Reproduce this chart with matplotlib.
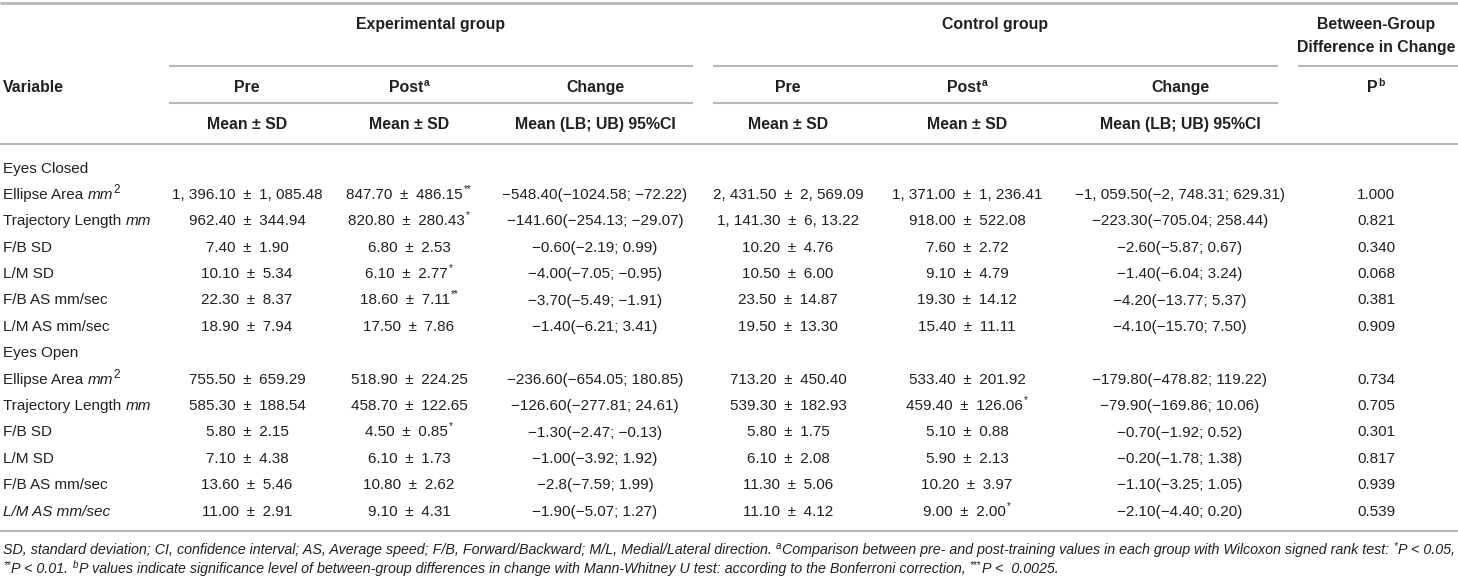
import matplotlib
matplotlib.use("Agg")
import matplotlib.pyplot as plt

# ---------------- data ----------------
section_titles = ["Eyes Closed", "Eyes Open"]
variable_labels = ["Ellipse Area", "Trajectory Length", "F/B SD", "L/M SD",
                   "F/B AS mm/sec", "L/M AS mm/sec"]
variable_units = ["mm", "mm", "", "", "", ""]
variable_unit_sup = ["2", "", "", "", "", ""]

exp_pre = ["1, 396.10 ± 1, 085.48", "962.40 ± 344.94", "7.40 ± 1.90", "10.10 ± 5.34",
           "22.30 ± 8.37", "18.90 ± 7.94",
           "755.50 ± 659.29", "585.30 ± 188.54", "5.80 ± 2.15", "7.10 ± 4.38",
           "13.60 ± 5.46", "11.00 ± 2.91"]
exp_post = ["847.70 ± 486.15", "820.80 ± 280.43", "6.80 ± 2.53", "6.10 ± 2.77",
            "18.60 ± 7.11", "17.50 ± 7.86",
            "518.90 ± 224.25", "458.70 ± 122.65", "4.50 ± 0.85", "6.10 ± 1.73",
            "10.80 ± 2.62", "9.10 ± 4.31"]
exp_post_sig = ["**", "*", "", "*", "**", "", "", "", "*", "", "", ""]
exp_change = ["−548.40(−1024.58; −72.22)", "−141.60(−254.13; −29.07)", "−0.60(−2.19; 0.99)",
              "−4.00(−7.05; −0.95)", "−3.70(−5.49; −1.91)", "−1.40(−6.21; 3.41)",
              "−236.60(−654.05; 180.85)", "−126.60(−277.81; 24.61)", "−1.30(−2.47; −0.13)",
              "−1.00(−3.92; 1.92)", "−2.8(−7.59; 1.99)", "−1.90(−5.07; 1.27)"]
ctl_pre = ["2, 431.50 ± 2, 569.09", "1, 141.30 ± 6, 13.22", "10.20 ± 4.76", "10.50 ± 6.00",
           "23.50 ± 14.87", "19.50 ± 13.30",
           "713.20 ± 450.40", "539.30 ± 182.93", "5.80 ± 1.75", "6.10 ± 2.08",
           "11.30 ± 5.06", "11.10 ± 4.12"]
ctl_post = ["1, 371.00 ± 1, 236.41", "918.00 ± 522.08", "7.60 ± 2.72", "9.10 ± 4.79",
            "19.30 ± 14.12", "15.40 ± 11.11",
            "533.40 ± 201.92", "459.40 ± 126.06", "5.10 ± 0.88", "5.90 ± 2.13",
            "10.20 ± 3.97", "9.00 ± 2.00"]
ctl_post_sig = ["", "", "", "", "", "", "", "*", "", "", "", "*"]
ctl_change = ["−1, 059.50(−2, 748.31; 629.31)", "−223.30(−705.04; 258.44)", "−2.60(−5.87; 0.67)",
              "−1.40(−6.04; 3.24)", "−4.20(−13.77; 5.37)", "−4.10(−15.70; 7.50)",
              "−179.80(−478.82; 119.22)", "−79.90(−169.86; 10.06)", "−0.70(−1.92; 0.52)",
              "−0.20(−1.78; 1.38)", "−1.10(−3.25; 1.05)", "−2.10(−4.40; 0.20)"]
p_values = ["1.000", "0.821", "0.340", "0.068", "0.381", "0.909",
            "0.734", "0.705", "0.301", "0.817", "0.939", "0.539"]

group_headers = ["Experimental group", "Control group"]
sub_headers = ["Pre", "Post", "Change"]
stat_headers = ["Mean ± SD", "Mean ± SD", "Mean (LB; UB) 95%CI"]

# ---------------- layout ----------------
W, H = 1458, 579
fig = plt.figure(figsize=(W / 100, H / 100), dpi=100)
ax = fig.add_axes([0, 0, 1, 1])
ax.set_xlim(0, W)
ax.set_ylim(H, 0)
ax.axis("off")
renderer = fig.canvas.get_renderer()

FONT = ["Liberation Sans", "DejaVu Sans"]
COL = "#231f20"
RULE = "#b8b8b8"
FS = 11.0
FS_HEAD = 11.4
FS_FOOT = 10.25
PX = 100 / 72.0


def fmt_cell(s):
    # math-style typesetting: wider spacing around ±
    return s.replace(" ± ", "\u2002±\u2002")


def measure(s, size, style="normal", weight="normal"):
    t = ax.text(0, 0, s, fontfamily=FONT, fontsize=size, fontstyle=style, fontweight=weight)
    w = t.get_window_extent(renderer).width
    t.remove()
    return w


def draw_runs(x, ycen, runs, ha="left", size=FS):
    """runs: list of (text, dict) ; dict keys size, style, weight, rise, gap"""
    base = ycen + 0.36 * size * PX
    widths = []
    for s, o in runs:
        widths.append(o.get("gap", 0) + measure(s, o.get("size", size), o.get("style", "normal"),
                                                o.get("weight", "normal")))
    total = sum(widths)
    cx = x - total / 2 if ha == "center" else x
    for (s, o), w in zip(runs, widths):
        cx += o.get("gap", 0)
        ax.text(cx, base - o.get("rise", 0), s, fontfamily=FONT, fontsize=o.get("size", size),
                fontstyle=o.get("style", "normal"), fontweight=o.get("weight", "normal"),
                color=COL, ha="left", va="baseline")
        cx += w - o.get("gap", 0)


def rule(y, x0, x1, lw=1.5):
    ax.plot([x0, x1], [y, y], color=RULE, lw=lw, solid_capstyle="butt")


# rules
rule(3, 0, W, 2.0)
for x0, x1 in [(169, 693), (713, 1278), (1298, W)]:
    rule(66, x0, x1)
for x0, x1 in [(169, 693), (713, 1278)]:
    rule(103, x0, x1)
rule(144, 0, W)
rule(531, 0, W)

B = {"weight": "bold", "size": FS_HEAD}
BS = {"weight": "bold", "size": 7.5, "rise": 5.5, "gap": 0.5}
col_x = [247, 409, 595, 788, 967, 1180]
group_x = [431, 995]
p_x = 1376

# headers
for gx, g in zip(group_x, group_headers):
    draw_runs(gx, 23, [(g, B)], ha="center", size=FS_HEAD)
draw_runs(p_x, 23, [("Between-Group", B)], ha="center", size=FS_HEAD)
draw_runs(p_x, 46, [("Difference in Change", B)], ha="center", size=FS_HEAD)
draw_runs(3, 86, [("Variable", B)], size=FS_HEAD)
for gi in range(2):
    for ci in range(3):
        x = col_x[gi * 3 + ci]
        if sub_headers[ci] == "Post":
            draw_runs(x, 86, [("Post", B), ("a", BS)], ha="center", size=FS_HEAD)
        else:
            draw_runs(x, 86, [(sub_headers[ci], B)], ha="center", size=FS_HEAD)
        draw_runs(x, 123, [(stat_headers[ci], B)], ha="center", size=FS_HEAD)
draw_runs(p_x, 86, [("P", B), ("b", BS)], ha="center", size=FS_HEAD)

# body
y0, dy = 167, 26.4
sp = 0.278 * FS * PX
n = len(variable_labels)
SIG = {"size": 7, "rise": 7, "gap": 1}
for si, title in enumerate(section_titles):
    ry = y0 + dy * si * (n + 1)
    draw_runs(3, ry, [(title, {})])
    for vi in range(n):
        k = si * n + vi
        y = y0 + dy * (si * (n + 1) + vi + 1)
        lab = variable_labels[vi]
        if si == 1 and vi == n - 1:
            runs = [(lab, {"style": "italic"})]
        else:
            runs = [(lab, {})]
            if variable_units[vi]:
                runs.append((variable_units[vi], {"style": "italic", "gap": sp}))
            if variable_unit_sup[vi]:
                runs.append((variable_unit_sup[vi], {"size": 8.5, "rise": 6, "gap": 0.5}))
        draw_runs(3, y, runs)

        draw_runs(col_x[0], y, [(fmt_cell(exp_pre[k]), {})], ha="center")
        r = [(fmt_cell(exp_post[k]), {})]
        if exp_post_sig[k]:
            r.append((exp_post_sig[k], SIG))
        draw_runs(col_x[1], y, r, ha="center")
        draw_runs(col_x[2], y, [(fmt_cell(exp_change[k]), {})], ha="center")
        draw_runs(col_x[3], y, [(fmt_cell(ctl_pre[k]), {})], ha="center")
        r = [(fmt_cell(ctl_post[k]), {})]
        if ctl_post_sig[k]:
            r.append((ctl_post_sig[k], SIG))
        draw_runs(col_x[4], y, r, ha="center")
        draw_runs(col_x[5], y, [(fmt_cell(ctl_change[k]), {})], ha="center")
        draw_runs(p_x, y, [(p_values[k], {})], ha="center")

# footnote
I = {"style": "italic", "size": FS_FOOT}
IS = {"style": "italic", "size": 7, "rise": 5}
line1 = [("SD, standard deviation; CI, confidence interval; AS, Average speed; F/B, "
          "Forward/Backward; M/L, Medial/Lateral direction.", I),
         ("a", dict(IS, gap=4)),
         ("Comparison between pre- and post-training values in each group with Wilcoxon "
          "signed rank test:", dict(I, gap=1)),
         ("*", dict(IS, gap=4)),
         ("P < 0.05,", dict(I, gap=1))]
line2 = [("**", IS),
         ("P < 0.01.", dict(I, gap=1)),
         ("b", dict(IS, gap=4)),
         ("P values indicate significance level of between-group differences in change with "
          "Mann-Whitney U test: according to the Bonferroni correction,", dict(I, gap=1)),
         ("***", dict(IS, gap=4)),
         ("P <  0.0025.", dict(I, gap=1))]
draw_runs(3, 549, line1, size=FS_FOOT)
draw_runs(3, 568, line2, size=FS_FOOT)

fig.savefig("out.png", dpi=100)
